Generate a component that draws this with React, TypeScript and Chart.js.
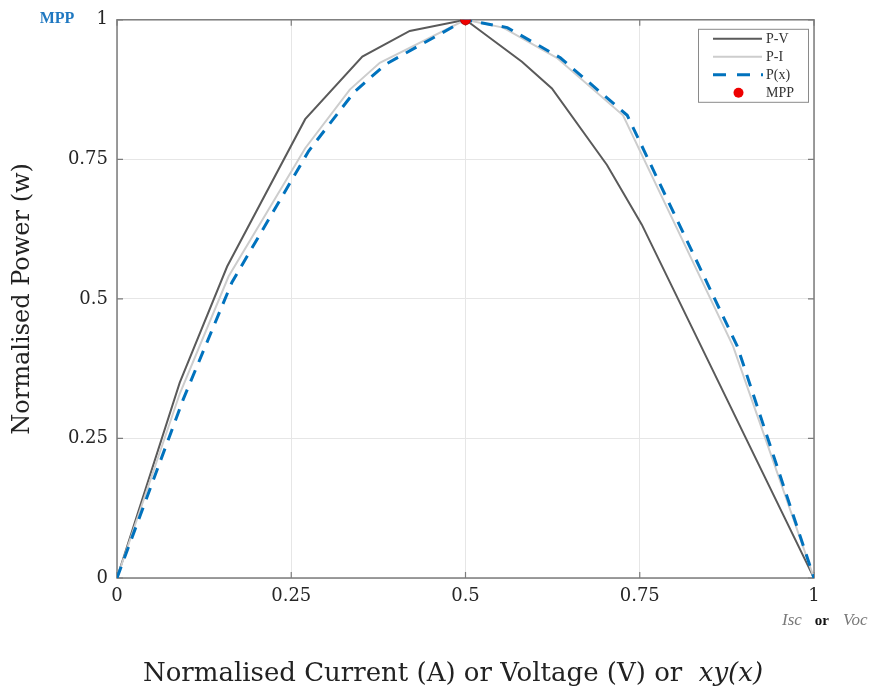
import React, { useEffect, useRef } from "react";
import { Chart, registerables } from "chart.js";

Chart.register(...registerables);

// Normalised P-V characteristic
const pvX = [0, 0.09, 0.158, 0.27, 0.352, 0.42, 0.5, 0.581, 0.624, 0.703, 0.753, 1];
const pvY = [0, 0.35, 0.558, 0.822, 0.934, 0.98, 1, 0.925, 0.877, 0.74, 0.633, 0];

// Normalised P-I characteristic
const piX = [0, 0.09, 0.16, 0.27, 0.334, 0.377, 0.5, 0.554, 0.631, 0.726, 0.884, 1];
const piY = [0, 0.33, 0.54, 0.77, 0.875, 0.923, 1, 0.986, 0.932, 0.829, 0.415, 0];

// Generalised power function P(x)
const pxX = [0, 0.095, 0.165, 0.275, 0.34, 0.385, 0.5, 0.56, 0.636, 0.732, 0.89, 1];
const pxY = [0, 0.32, 0.53, 0.765, 0.87, 0.92, 1, 0.986, 0.932, 0.829, 0.415, 0];

// Maximum power point
const mppX = [0.5];
const mppY = [1];

const tickValues = [0, 0.25, 0.5, 0.75, 1];
const legendLabels = ["P-V", "P-I", "P(x)", "MPP"];

const PV_COLOR = "#5a5a5a";
const PI_COLOR = "#cdcdcd";
const PX_COLOR = "#0072BD";
const MPP_COLOR = "#ee0000";
const FRAME_COLOR = "#7c7c7c";
const SERIF = "'DejaVu Serif', serif";

const toPoints = (xs: number[], ys: number[]) => xs.map((x, i) => ({ x, y: ys[i] }));

const decorations = {
  id: "decorations",
  beforeDatasetsDraw(chart: any) {
    const { ctx, chartArea: a } = chart;
    const xs = chart.scales.x;
    const ys = chart.scales.y;
    ctx.save();
    ctx.strokeStyle = FRAME_COLOR;
    ctx.lineWidth = 1.5;
    ctx.strokeRect(a.left, a.top, a.right - a.left, a.bottom - a.top);
    ctx.lineWidth = 1.2;
    const len = 6;
    ctx.beginPath();
    tickValues.forEach((v) => {
      const px = xs.getPixelForValue(v);
      ctx.moveTo(px, a.bottom);
      ctx.lineTo(px, a.bottom - len);
      ctx.moveTo(px, a.top);
      ctx.lineTo(px, a.top + len);
      const py = ys.getPixelForValue(v);
      ctx.moveTo(a.left, py);
      ctx.lineTo(a.left + len, py);
      ctx.moveTo(a.right, py);
      ctx.lineTo(a.right - len, py);
    });
    ctx.stroke();
    ctx.restore();
  },
  afterDatasetsDraw(chart: any) {
    const { ctx, chartArea: a } = chart;
    ctx.save();

    // legend box in the upper right corner of the axes
    const bx = a.right - 116;
    const by = a.top + 9;
    const bw = 110;
    const bh = 73;
    ctx.fillStyle = "#ffffff";
    ctx.fillRect(bx, by, bw, bh);
    ctx.strokeStyle = "#8a8a8a";
    ctx.lineWidth = 1;
    ctx.strokeRect(bx + 0.5, by + 0.5, bw, bh);

    const rowY = [by + 10, by + 28, by + 46, by + 64];
    const lx0 = bx + 15;
    const lx1 = bx + 64;
    ctx.lineCap = "butt";
    // P-V
    ctx.strokeStyle = PV_COLOR;
    ctx.lineWidth = 2;
    ctx.beginPath();
    ctx.moveTo(lx0, rowY[0]);
    ctx.lineTo(lx1, rowY[0]);
    ctx.stroke();
    // P-I
    ctx.strokeStyle = PI_COLOR;
    ctx.beginPath();
    ctx.moveTo(lx0, rowY[1]);
    ctx.lineTo(lx1, rowY[1]);
    ctx.stroke();
    // P(x)
    ctx.strokeStyle = PX_COLOR;
    ctx.lineWidth = 3;
    ctx.setLineDash([13, 11]);
    ctx.beginPath();
    ctx.moveTo(lx0, rowY[2]);
    ctx.lineTo(lx1 + 1, rowY[2]);
    ctx.stroke();
    ctx.setLineDash([]);
    // MPP
    ctx.fillStyle = MPP_COLOR;
    ctx.beginPath();
    ctx.arc((lx0 + lx1) / 2 + 1, rowY[3], 5, 0, Math.PI * 2);
    ctx.fill();

    ctx.fillStyle = "#333333";
    ctx.font = "14px 'Liberation Serif', serif";
    ctx.textAlign = "left";
    ctx.textBaseline = "middle";
    legendLabels.forEach((t, i) => ctx.fillText(t, lx1 + 4, rowY[i] + 1));
    ctx.restore();
  },
  afterDraw(chart: any) {
    const { ctx, chartArea: a } = chart;
    ctx.save();

    // y-axis title
    ctx.fillStyle = "#222222";
    ctx.font = `24px ${SERIF}`;
    ctx.textAlign = "center";
    ctx.textBaseline = "middle";
    ctx.translate(23, (a.top + a.bottom) / 2);
    ctx.rotate(-Math.PI / 2);
    ctx.fillText("Normalised Power (w)", 0, 0);
    ctx.setTransform(1, 0, 0, 1, 0, 0);

    // x-axis title with an italic function name
    const main = "Normalised Current (A) or Voltage (V) or  ";
    const fn = "xy(x)";
    ctx.font = `26px ${SERIF}`;
    const w1 = ctx.measureText(main).width;
    ctx.font = `italic 26px ${SERIF}`;
    const w2 = ctx.measureText(fn).width;
    const startX = 453 - (w1 + w2) / 2;
    ctx.textAlign = "left";
    ctx.textBaseline = "alphabetic";
    ctx.font = `26px ${SERIF}`;
    ctx.fillText(main, startX, 681);
    ctx.font = `italic 26px ${SERIF}`;
    ctx.fillText(fn, startX + w1, 681);

    // MPP marker caption next to the top tick
    ctx.fillStyle = "#1f78c1";
    ctx.font = "bold 16px 'Liberation Serif', serif";
    ctx.textAlign = "center";
    ctx.textBaseline = "middle";
    ctx.fillText("MPP", 57, a.top - 1);

    // end-of-axis annotation
    ctx.textBaseline = "middle";
    ctx.textAlign = "left";
    let x = a.right - 32;
    const y = 621;
    ctx.fillStyle = "#7a7a7a";
    ctx.font = "italic 17px 'Liberation Serif', serif";
    ctx.fillText("Isc", x, y);
    x += ctx.measureText("Isc").width + 13;
    ctx.fillStyle = "#111111";
    ctx.font = "bold 15px 'Liberation Serif', serif";
    ctx.fillText("or", x, y);
    x += ctx.measureText("or").width + 14;
    ctx.fillStyle = "#7a7a7a";
    ctx.font = "italic 17px 'Liberation Serif', serif";
    ctx.fillText("Voc", x, y);
    ctx.restore();
  },
};

export default function App() {
  const canvasRef = useRef<HTMLCanvasElement | null>(null);

  useEffect(() => {
    if (!canvasRef.current) return;
    const tickFont = { family: SERIF, size: 18 };
    const fmt = (v: any) => String(Number(v));
    const chart = new Chart(canvasRef.current, {
      type: "scatter",
      data: {
        datasets: [
          {
            label: "MPP",
            data: toPoints(mppX, mppY),
            showLine: false,
            pointRadius: 5,
            pointBackgroundColor: MPP_COLOR,
            pointBorderColor: "#c00000",
            pointBorderWidth: 1,
            order: 0,
          },
          {
            label: "P(x)",
            data: toPoints(pxX, pxY),
            showLine: true,
            borderColor: PX_COLOR,
            borderWidth: 3,
            borderDash: [12, 9],
            pointRadius: 0,
            order: 1,
          },
          {
            label: "P-I",
            data: toPoints(piX, piY),
            showLine: true,
            borderColor: PI_COLOR,
            borderWidth: 2,
            pointRadius: 0,
            order: 2,
          },
          {
            label: "P-V",
            data: toPoints(pvX, pvY),
            showLine: true,
            borderColor: PV_COLOR,
            borderWidth: 2,
            pointRadius: 0,
            order: 3,
          },
        ],
      },
      options: {
        responsive: false,
        animation: false,
        layout: { padding: { left: 0, top: 17, right: 59, bottom: 0 } },
        plugins: {
          legend: { display: false },
          tooltip: { enabled: false },
        },
        scales: {
          x: {
            type: "linear",
            min: 0,
            max: 1,
            afterBuildTicks: (scale: any) => {
              scale.ticks = tickValues.map((v) => ({ value: v }));
            },
            afterFit: (scale: any) => {
              scale.height = 115;
            },
            ticks: { font: tickFont, color: "#262626", padding: 8, maxRotation: 0, callback: fmt },
            grid: { color: "#e6e6e6", lineWidth: 1, drawTicks: false },
            border: { display: false },
          },
          y: {
            type: "linear",
            min: 0,
            max: 1,
            afterBuildTicks: (scale: any) => {
              scale.ticks = tickValues.map((v) => ({ value: v }));
            },
            afterFit: (scale: any) => {
              scale.width = 117;
            },
            ticks: { font: tickFont, color: "#262626", padding: 9, callback: fmt },
            grid: { color: "#e6e6e6", lineWidth: 1, drawTicks: false },
            border: { display: false },
          },
        },
      },
      plugins: [decorations],
    } as any);
    return () => chart.destroy();
  }, []);

  return (
    <div style={{ position: "absolute", left: 0, top: 0, width: 873, height: 693, background: "#ffffff" }}>
      <canvas ref={canvasRef} width={873} height={693} style={{ display: "block" }} />
    </div>
  );
}
